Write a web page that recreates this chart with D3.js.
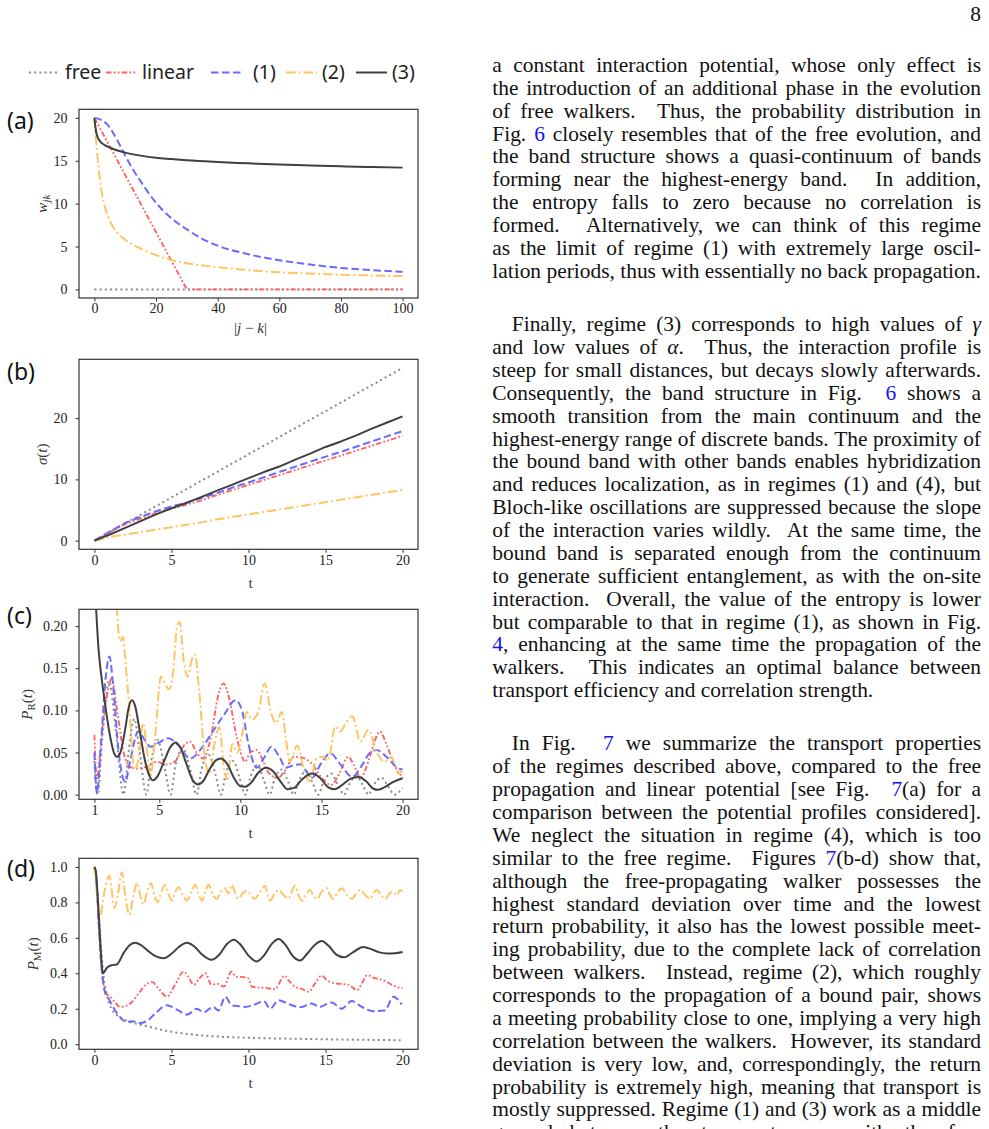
<!DOCTYPE html>
<meta charset="utf-8">
<style>
    body { margin: 0; background: #fff; }
    .axis path.domain { display: none; }
    .axis line { stroke: #333; }
    .axis text { font-family: 'Liberation Serif', 'Times New Roman', serif; font-size: 14px; fill: #222; }
    .panellabel { font-family: 'Noto Sans', 'DejaVu Sans', sans-serif; font-size: 23px; fill: #111; }
    .legend text { font-family: 'Noto Sans', 'DejaVu Sans', sans-serif; font-size: 19.5px; fill: #222; }
    .axlabel { font-family: 'Liberation Serif', 'Times New Roman', serif; font-size: 15px; fill: #333; }
    .body text { font-family: 'Liberation Serif', 'Times New Roman', serif; fill: #111; }
</style>
<body>
<svg></svg>

<script src="https://d3js.org/d3.v7.min.js"></script>
<script type='text/javascript'>

    // legend / series names
    var seriesKeys = ['free', 'linear', '(1)', '(2)', '(3)'];

    // (a) interaction profile w_jk vs |j-k|
    var aFree = [[0,0],[100,0]];
    var aLinear = [[0,20],[30,0],[100,0]];
    var aReg1 = [[0,20],[2,19.8],[4,19.3],[6,18.3],[8,17.0],[10,15.6],[12,14.3],[15,12.6],[20,10.1],[25,8.3],[30,7.0],[35,5.9],[40,5.1],[50,4.1],[60,3.4],[70,2.9],[80,2.5],[90,2.25],[100,2.05]];
    var aReg2 = [[0,20],[0.5,17.6],[1,15.5],[2,12.2],[3,10.2],[4,8.9],[5,8.0],[7,6.8],[10,5.8],[13,5.1],[16,4.6],[20,4.0],[25,3.4],[30,3.05],[40,2.6],[50,2.25],[60,2.0],[70,1.85],[80,1.72],[90,1.63],[100,1.55]];
    var aReg3 = [[0,20],[0.3,19],[0.6,18.3],[1,17.8],[2,17.2],[3,16.9],[5,16.55],[7,16.25],[10,15.95],[15,15.6],[20,15.35],[25,15.2],[30,15.05],[40,14.85],[50,14.7],[60,14.55],[70,14.45],[80,14.35],[90,14.27],[100,14.2]];

    // (b) sigma(t)
    var bFree = [[0,0],[2,2.82],[4,5.64],[6,8.46],[8,11.28],[10,14.1],[12,16.92],[14,19.74],[16,22.56],[18,25.38],[20,28.2]];
    var bLinear = [[0,0],[1,1.4],[2,2.7],[3,3.6],[4,4.5],[5,5.2],[6,5.9],[7,6.6],[8,7.5],[9,8.3],[10,9.1],[12,10.7],[14,12.3],[16,13.9],[18,15.5],[20,17.1]];
    var bReg1 = [[0,0],[1,1.5],[2,2.9],[3,3.9],[4,4.8],[5,5.6],[6,6.2],[7,7.0],[8,7.8],[9,8.7],[10,9.5],[12,11.2],[14,12.9],[16,14.5],[18,16.2],[20,17.9]];
    var bReg2 = [[0,0],[1,0.6],[2,1.0],[3,1.4],[4,1.8],[5,2.2],[6,2.6],[7,3.0],[8,3.5],[9,3.9],[10,4.3],[12,5.1],[14,5.9],[16,6.7],[18,7.5],[20,8.3]];
    var bReg3 = [[0,0],[1,1.0],[2,2.1],[3,3.2],[4,4.3],[5,5.3],[6,6.2],[7,7.2],[8,8.2],[9,9.2],[10,10.2],[11,11.2],[12,12.1],[13,13.2],[14,14.2],[15,15.3],[16,16.2],[17,17.2],[18,18.3],[19,19.3],[20,20.3]];

    // (c) return probability P_R(t)
    var cFree = [[1.0,0.04],[1.2,0.0],[1.5,0.07],[1.9,0.135],[2.3,0.08],[2.8,0.0],[3.1,0.05],[3.45,0.09],[3.8,0.05],[4.2,0.0],[4.5,0.04],[4.9,0.065],[5.3,0.035],[5.7,0.0],[6.0,0.035],[6.45,0.055],[6.9,0.03],[7.3,0.0],[7.6,0.03],[8.05,0.047],[8.45,0.025],[8.8,0.0],[9.1,0.025],[9.55,0.04],[9.95,0.02],[10.3,0.0],[10.6,0.02],[11.05,0.035],[11.45,0.017],[11.8,0.0],[12.1,0.018],[12.55,0.03],[12.95,0.015],[13.3,0.0],[13.6,0.016],[14.05,0.028],[14.45,0.014],[14.8,0.0],[15.1,0.014],[15.6,0.025],[16.0,0.012],[16.4,0.0],[16.7,0.012],[17.15,0.022],[17.55,0.011],[17.9,0.0],[18.2,0.011],[18.7,0.02],[19.1,0.01],[19.5,0.0],[20.0,0.008]];
    var cLinear = [[1.0,0.071],[1.15,0.019],[1.5,0.08],[1.8,0.12],[2.07,0.138],[2.4,0.1],[2.8,0.05],[3.2,0.033],[3.6,0.031],[4.2,0.033],[4.85,0.039],[5.4,0.036],[6.0,0.04],[6.5,0.058],[6.9,0.063],[7.3,0.05],[7.7,0.043],[8.2,0.07],[8.6,0.115],[8.96,0.132],[9.3,0.115],[9.7,0.075],[10.0,0.051],[10.3,0.039],[10.6,0.05],[11.0,0.053],[11.4,0.04],[11.7,0.027],[12.3,0.02],[12.8,0.03],[13.3,0.045],[13.8,0.044],[14.4,0.037],[15.0,0.02],[15.6,0.0115],[16.1,0.025],[16.65,0.045],[17.0,0.035],[17.4,0.02],[17.9,0.04],[18.3,0.065],[18.6,0.075],[19.0,0.06],[19.5,0.035],[20.0,0.02]];
    var cReg1 = [[1.0,0.05],[1.15,0.002],[1.4,0.06],[1.7,0.14],[1.93,0.164],[2.15,0.13],[2.5,0.05],[2.9,0.015],[3.2,0.04],[3.7,0.075],[4.1,0.065],[4.45,0.057],[5.0,0.062],[5.55,0.067],[6.2,0.058],[6.9,0.043],[7.6,0.055],[8.3,0.075],[9.0,0.095],[9.7,0.112],[10.1,0.1],[10.5,0.06],[11.0,0.032],[11.5,0.045],[11.9,0.057],[12.4,0.045],[12.8,0.032],[13.3,0.035],[13.7,0.036],[14.4,0.02],[15.0,0.038],[15.55,0.049],[16.2,0.035],[16.9,0.021],[17.5,0.035],[18.0,0.05],[18.4,0.053],[19.0,0.045],[19.75,0.031],[20.0,0.03]];
    var cReg2 = [[1.0,0.45],[1.8,0.33],[2.3,0.25],[2.5,0.19],[2.6,0.182],[2.75,0.187],[2.95,0.15],[3.2,0.09],[3.45,0.03],[3.7,0.04],[4.0,0.085],[4.2,0.06],[4.45,0.022],[4.75,0.07],[5.1,0.14],[5.4,0.13],[5.6,0.125],[5.85,0.145],[6.1,0.2],[6.25,0.205],[6.5,0.16],[6.75,0.14],[7.0,0.16],[7.2,0.166],[7.45,0.125],[7.8,0.045],[8.1,0.025],[8.4,0.06],[8.7,0.08],[9.0,0.03],[9.2,0.018],[9.5,0.06],[9.8,0.05],[10.1,0.07],[10.4,0.098],[10.7,0.089],[11.1,0.098],[11.5,0.132],[11.85,0.1],[12.2,0.085],[12.55,0.098],[12.8,0.067],[13.05,0.039],[13.5,0.058],[14.0,0.023],[14.3,0.016],[14.7,0.043],[15.1,0.045],[15.4,0.04],[15.85,0.081],[16.15,0.075],[16.5,0.085],[16.9,0.093],[17.4,0.063],[17.9,0.077],[18.4,0.051],[18.9,0.039],[19.3,0.045],[19.75,0.025],[20.0,0.028]];
    var cReg3 = [[1.0,0.26],[1.25,0.174],[1.5,0.13],[1.75,0.095],[2.0,0.066],[2.2,0.05],[2.4,0.045],[2.6,0.05],[2.9,0.078],[3.1,0.102],[3.3,0.112],[3.5,0.106],[3.8,0.075],[4.1,0.042],[4.4,0.022],[4.6,0.017],[4.9,0.022],[5.3,0.04],[5.7,0.057],[6.0,0.062],[6.3,0.056],[6.7,0.035],[7.1,0.016],[7.4,0.012],[7.7,0.016],[8.1,0.03],[8.5,0.041],[8.8,0.043],[9.2,0.036],[9.6,0.02],[10.0,0.01],[10.3,0.0095],[10.7,0.015],[11.1,0.026],[11.6,0.032],[12.0,0.028],[12.5,0.015],[12.9,0.0065],[13.3,0.008],[13.8,0.018],[14.4,0.025],[14.9,0.02],[15.4,0.009],[15.8,0.0065],[16.3,0.012],[16.8,0.019],[17.3,0.021],[17.8,0.015],[18.2,0.007],[18.5,0.0057],[18.9,0.009],[19.4,0.015],[20.0,0.0195]];

    // (d) meeting probability P_M(t)
    var dFree = [[0,1.0],[0.2,0.85],[0.4,0.58],[0.6,0.38],[0.8,0.28],[1.0,0.22],[1.5,0.16],[2.0,0.135],[2.5,0.12],[3.0,0.11],[4.0,0.088],[5.0,0.07],[6.0,0.058],[7.0,0.049],[8.0,0.043],[10,0.036],[12,0.032],[14,0.029],[16,0.026],[18,0.024],[20,0.022]];
    var dLinear = [[0,1.0],[0.1,0.96],[0.2,0.82],[0.3,0.65],[0.4,0.5],[0.55,0.36],[0.7,0.29],[1.0,0.27],[1.3,0.24],[1.65,0.21],[2.0,0.215],[2.4,0.235],[2.9,0.29],[3.4,0.34],[3.75,0.35],[4.2,0.31],[4.7,0.268],[5.2,0.33],[5.8,0.41],[6.1,0.38],[6.45,0.335],[6.8,0.37],[7.2,0.40],[7.6,0.335],[8.0,0.34],[8.4,0.325],[8.9,0.41],[9.2,0.38],[9.5,0.38],[10.0,0.37],[10.2,0.325],[10.6,0.32],[11.1,0.318],[11.7,0.31],[12.35,0.387],[12.6,0.36],[13.0,0.325],[13.5,0.31],[13.9,0.296],[14.3,0.34],[14.75,0.387],[15.1,0.36],[15.5,0.345],[16.0,0.34],[16.5,0.335],[17.05,0.305],[17.4,0.35],[17.7,0.39],[18.1,0.375],[18.6,0.365],[19.0,0.35],[19.4,0.33],[20.0,0.315]];
    var dReg1 = [[0,1.0],[0.1,0.96],[0.2,0.82],[0.3,0.65],[0.4,0.5],[0.55,0.36],[0.7,0.29],[0.9,0.26],[1.15,0.22],[1.55,0.165],[2.1,0.125],[2.5,0.13],[2.85,0.118],[3.4,0.13],[4.05,0.182],[4.7,0.22],[5.35,0.195],[6.0,0.167],[6.65,0.2],[7.1,0.18],[7.7,0.21],[8.05,0.19],[8.5,0.268],[8.9,0.22],[9.3,0.215],[9.8,0.21],[10.3,0.22],[11.0,0.243],[11.4,0.2],[11.95,0.248],[12.4,0.235],[12.8,0.22],[13.45,0.21],[14.1,0.23],[14.6,0.21],[15.4,0.235],[16.05,0.2],[16.7,0.243],[17.35,0.21],[18.1,0.186],[18.85,0.19],[19.4,0.268],[19.95,0.224]];
    var dReg2 = [[0,1.0],[0.15,0.86],[0.37,0.72],[0.65,0.86],[0.97,0.95],[1.3,0.77],[1.55,0.86],[1.78,0.97],[2.0,0.84],[2.27,0.73],[2.55,0.85],[2.79,0.91],[3.0,0.83],[3.18,0.79],[3.45,0.87],[3.66,0.91],[3.9,0.84],[4.09,0.8],[4.35,0.86],[4.59,0.9],[4.8,0.85],[5.03,0.81],[5.25,0.86],[5.46,0.885],[5.75,0.84],[6.0,0.81],[6.3,0.86],[6.54,0.9],[6.75,0.85],[6.97,0.81],[7.2,0.86],[7.4,0.9],[7.7,0.84],[7.94,0.82],[8.2,0.86],[8.45,0.88],[8.7,0.85],[8.92,0.9],[9.15,0.85],[9.35,0.82],[9.6,0.85],[9.9,0.866],[10.15,0.84],[10.4,0.82],[10.75,0.86],[11.08,0.894],[11.25,0.84],[11.4,0.81],[11.7,0.85],[11.95,0.87],[12.3,0.84],[12.6,0.82],[12.8,0.86],[13.03,0.894],[13.25,0.84],[13.47,0.81],[13.75,0.85],[14.0,0.87],[14.2,0.84],[14.44,0.82],[14.75,0.86],[15.09,0.88],[15.3,0.84],[15.5,0.82],[15.8,0.86],[16.06,0.88],[16.4,0.84],[16.7,0.82],[17.0,0.85],[17.25,0.87],[17.6,0.84],[17.9,0.82],[18.1,0.85],[18.34,0.87],[18.6,0.84],[18.88,0.82],[19.15,0.85],[19.4,0.86],[19.6,0.84],[19.85,0.87],[20.0,0.86]];
    var dReg3 = [[0,1.0],[0.1,0.97],[0.2,0.85],[0.3,0.7],[0.4,0.55],[0.55,0.40],[0.8,0.43],[1.1,0.445],[1.45,0.45],[1.9,0.515],[2.3,0.56],[2.65,0.572],[3.0,0.56],[3.5,0.525],[4.0,0.495],[4.5,0.485],[5.0,0.51],[5.5,0.55],[6.0,0.572],[6.5,0.55],[7.0,0.505],[7.6,0.476],[8.1,0.505],[8.6,0.565],[9.05,0.59],[9.5,0.56],[10.0,0.5],[10.55,0.467],[11.0,0.5],[11.5,0.565],[11.95,0.594],[12.4,0.56],[12.9,0.495],[13.35,0.472],[13.8,0.51],[14.3,0.56],[14.75,0.582],[15.2,0.555],[15.7,0.505],[16.2,0.49],[16.8,0.52],[17.45,0.548],[18.0,0.535],[18.5,0.518],[19.0,0.512],[19.5,0.513],[20.0,0.52]];

    var seriesStyle = {
        'free':   {color: '#8a8a8a', dash: '2,3.2', width: 2},
        'linear': {color: '#ff6464', dash: '5.5,2.2,1.8,2.2,1.8,2.2', width: 1.9},
        '(1)':    {color: '#6a6aff', dash: '7.5,3.5', width: 2},
        '(2)':    {color: '#ffc464', dash: '9.5,3,2,3', width: 2},
        '(3)':    {color: '#404040', dash: null, width: 2}
    };

    var frameL = 79, frameR = 418;

    var svg = d3.select('svg')
        .attr('width', 989)
        .attr('height', 1129);

    svg.append('rect').attr('width', 989).attr('height', 1129).attr('fill', '#fff');

    function curveFor(key, panelId) {
        if (panelId === 'a' && key === 'linear') return d3.curveLinear;
        if (panelId === 'b') return d3.curveLinear;
        return d3.curveMonotoneX;
    }

    var panels = [
        {id: 'a', label: '(a)', top: 109.3, bottom: 298, labelY: 129, yLabelX: 47,
         xDomain: [-5, 105], yDomain: [-1, 21],
         xTicks: [0, 20, 40, 60, 80, 100], yTicks: [0, 5, 10, 15, 20], yFmt: d3.format('d'),
         data: [aFree, aLinear, aReg1, aReg2, aReg3], xLabel: 'jk', yLabel: 'w'},
        {id: 'b', label: '(b)', top: 359.3, bottom: 549.3, labelY: 380, yLabelX: 47,
         xDomain: [-1, 21], yDomain: [-1.41, 29.61],
         xTicks: [0, 5, 10, 15, 20], yTicks: [0, 10, 20], yFmt: d3.format('d'),
         data: [bFree, bLinear, bReg1, bReg2, bReg3], xLabel: 't', yLabel: 'sigma'},
        {id: 'c', label: '(c)', top: 609.3, bottom: 799.3, labelY: 624, yLabelX: 32,
         xDomain: [0.05, 20.95], yDomain: [-0.0055, 0.22],
         xTicks: [1, 5, 10, 15, 20], yTicks: [0, 0.05, 0.1, 0.15, 0.2], yFmt: d3.format('.2f'),
         data: [cFree, cLinear, cReg1, cReg2, cReg3], xLabel: 't', yLabel: 'R'},
        {id: 'd', label: '(d)', top: 858.3, bottom: 1049.3, labelY: 877, yLabelX: 38,
         xDomain: [-1, 21], yDomain: [-0.029, 1.049],
         xTicks: [0, 5, 10, 15, 20], yTicks: [0, 0.2, 0.4, 0.6, 0.8, 1.0], yFmt: d3.format('.1f'),
         data: [dFree, dLinear, dReg1, dReg2, dReg3], xLabel: 't', yLabel: 'M'}
    ];

    panels.forEach(function(p) {
        var g = svg.append('g').attr('id', 'panel-' + p.id);
        var x = d3.scaleLinear().domain(p.xDomain).range([frameL, frameR]);
        var y = d3.scaleLinear().domain(p.yDomain).range([p.bottom, p.top]);

        svg.append('clipPath').attr('id', 'clip-' + p.id)
            .append('rect')
            .attr('x', frameL).attr('y', p.top)
            .attr('width', frameR - frameL).attr('height', p.bottom - p.top);

        var lines = g.append('g').attr('clip-path', 'url(#clip-' + p.id + ')');
        seriesKeys.forEach(function(k, i) {
            var st = seriesStyle[k];
            var line = d3.line()
                .x(function(d) { return x(d[0]); })
                .y(function(d) { return y(d[1]); })
                .curve(curveFor(k, p.id));
            lines.append('path')
                .datum(p.data[i])
                .attr('d', line)
                .attr('fill', 'none')
                .attr('stroke', st.color)
                .attr('stroke-width', st.width)
                .attr('stroke-dasharray', st.dash)
                .attr('stroke-linejoin', 'round');
        });

        g.append('g')
            .attr('class', 'x axis')
            .attr('transform', 'translate(0,' + p.bottom + ')')
            .call(d3.axisBottom(x).tickValues(p.xTicks).tickSize(3.5).tickPadding(2).tickFormat(d3.format('d')));

        g.append('g')
            .attr('class', 'y axis')
            .attr('transform', 'translate(' + frameL + ',0)')
            .call(d3.axisLeft(y).tickValues(p.yTicks).tickSize(3.5).tickPadding(8).tickFormat(p.yFmt));

        g.append('rect')
            .attr('x', frameL).attr('y', p.top)
            .attr('width', frameR - frameL).attr('height', p.bottom - p.top)
            .attr('fill', 'none').attr('stroke', '#333').attr('stroke-width', 1.2);

        g.append('text')
            .attr('class', 'panellabel')
            .attr('x', 7).attr('y', p.labelY)
            .text(p.label);

        // axis titles
        var xt = g.append('text')
            .attr('class', 'axlabel')
            .attr('x', (frameL + frameR) / 2 + 2)
            .attr('text-anchor', 'middle');
        if (p.xLabel === 'jk') {
            xt.attr('y', p.bottom + 35);
            xt.append('tspan').text('|');
            xt.append('tspan').attr('font-style', 'italic').text('j');
            xt.append('tspan').text(' \u2212 ');
            xt.append('tspan').attr('font-style', 'italic').text('k');
            xt.append('tspan').text('|');
        } else {
            xt.attr('y', p.bottom + 39).text('t');
        }

        var yt = g.append('text')
            .attr('class', 'axlabel')
            .attr('text-anchor', 'middle')
            .attr('transform', 'translate(' + p.yLabelX + ',' + ((p.top + p.bottom) / 2) + ')rotate(-90)');
        if (p.yLabel === 'w') {
            yt.append('tspan').attr('font-style', 'italic').text('w');
            yt.append('tspan').attr('font-style', 'italic').attr('font-size', 11).attr('dy', 3).text('jk');
        } else if (p.yLabel === 'sigma') {
            yt.append('tspan').attr('font-style', 'italic').text('\u03c3');
            yt.append('tspan').text('(');
            yt.append('tspan').attr('font-style', 'italic').text('t');
            yt.append('tspan').text(')');
        } else {
            yt.append('tspan').attr('font-style', 'italic').text('P');
            yt.append('tspan').attr('font-size', 11).attr('dy', 3).text(p.yLabel);
            yt.append('tspan').attr('dy', -3).text('(');
            yt.append('tspan').attr('font-style', 'italic').text('t');
            yt.append('tspan').text(')');
        }
    });

    // legend row above the panels
    var legendLineX = [29, 106, 211, 286, 356];
    var legendTextX = [65, 142, 253, 322, 392];
    var legend = svg.append('g').attr('class', 'legend');
    seriesKeys.forEach(function(k, i) {
        var st = seriesStyle[k];
        var lx = legendLineX[i];
        legend.append('line')
            .attr('x1', lx).attr('x2', lx + 31)
            .attr('y1', 72.5).attr('y2', 72.5)
            .attr('stroke', st.color)
            .attr('stroke-width', st.width)
            .attr('stroke-dasharray', st.dash);
        legend.append('text')
            .attr('x', legendTextX[i]).attr('y', 79)
            .text(k);
    });

    // ---- right text column ----
    var pageNumber = '8';
    var para1 = [
        'a constant interaction potential, whose only effect is',
        'the introduction of an additional phase in the evolution',
        'of free walkers.  Thus, the probability distribution in',
        'Fig. ^6^ closely resembles that of the free evolution, and',
        'the band structure shows a quasi-continuum of bands',
        'forming near the highest-energy band.  In addition,',
        'the entropy falls to zero because no correlation is',
        'formed.  Alternatively, we can think of this regime',
        'as the limit of regime (1) with extremely large oscil-',
        'lation periods, thus with essentially no back propagation.'
    ];
    var para2 = [
        'Finally, regime (3) corresponds to high values of γ',
        'and low values of α.  Thus, the interaction profile is',
        'steep for small distances, but decays slowly afterwards.',
        'Consequently, the band structure in Fig.  ^6^ shows a',
        'smooth transition from the main continuum and the',
        'highest-energy range of discrete bands. The proximity of',
        'the bound band with other bands enables hybridization',
        'and reduces localization, as in regimes (1) and (4), but',
        'Bloch-like oscillations are suppressed because the slope',
        'of the interaction varies wildly.  At the same time, the',
        'bound band is separated enough from the continuum',
        'to generate sufficient entanglement, as with the on-site',
        'interaction.  Overall, the value of the entropy is lower',
        'but comparable to that in regime (1), as shown in Fig.',
        '^4^, enhancing at the same time the propagation of the',
        'walkers.  This indicates an optimal balance between',
        'transport efficiency and correlation strength.'
    ];
    var para3 = [
        'In Fig.  ^7^ we summarize the transport properties',
        'of the regimes described above, compared to the free',
        'propagation and linear potential [see Fig.  ^7^(a) for a',
        'comparison between the potential profiles considered].',
        'We neglect the situation in regime (4), which is too',
        'similar to the free regime.  Figures ^7^(b-d) show that,',
        'although the free-propagating walker possesses the',
        'highest standard deviation over time and the lowest',
        'return probability, it also has the lowest possible meet-',
        'ing probability, due to the complete lack of correlation',
        'between walkers.  Instead, regime (2), which roughly',
        'corresponds to the propagation of a bound pair, shows',
        'a meeting probability close to one, implying a very high',
        'correlation between the walkers.  However, its standard',
        'deviation is very low, and, correspondingly, the return',
        'probability is extremely high, meaning that transport is',
        'mostly suppressed. Regime (1) and (3) work as a middle',
        'ground between the two extremes, with the free'
    ];

    var colLeft = 492.3, colRight = 981, lineStep = 22.87, paraGap = 30.5, indent = 19.5;
    var body = svg.append('g').attr('class', 'body');

    // fit font size so the natural last line of para 1 fills the column
    var probe = body.append('text').attr('font-size', 20).text(para1[para1.length - 1]);
    var fs = 20 * (colRight - colLeft) / probe.node().getComputedTextLength();
    probe.remove();
    body.attr('font-size', fs);

    body.append('text')
        .attr('x', colRight).attr('y', 20.5)
        .attr('text-anchor', 'end')
        .text(pageNumber);

    function renderWord(str, y) {
        var t = body.append('text').attr('x', 0).attr('y', y);
        str.split(/(\^[^^]+\^|[γα])/).filter(Boolean).forEach(function(s) {
            var ts = t.append('tspan');
            if (s[0] === '^') ts.text(s.slice(1, -1)).attr('fill', '#1010f0');
            else if (s === 'γ' || s === 'α') ts.text(s).attr('font-style', 'italic');
            else ts.text(s);
        });
        return t;
    }

    function layLine(str, y, x0, justify) {
        var parts = str.split(/( +)/);
        var words = [], seps = [];
        parts.forEach(function(s, i) { if (i % 2 === 0) words.push(s); else seps.push(s); });
        var nodes = words.map(function(w) { return renderWord(w, y); });
        var widths = nodes.map(function(n) { return n.node().getComputedTextLength(); });
        var sp = fs * 0.25;
        var nat = seps.map(function(s) { return s.length > 1 ? sp * 1.35 : sp; });
        var stretch = seps.map(function(s) { return s.length > 1 ? 3 : 1; });
        var total = d3.sum(widths) + d3.sum(nat);
        var extra = justify && seps.length ? (colRight - x0 - total) : 0;
        var sumS = d3.sum(stretch) || 1;
        var x = x0;
        nodes.forEach(function(n, i) {
            n.attr('x', x);
            x += widths[i] + (i < seps.length ? nat[i] + extra * stretch[i] / sumS : 0);
        });
    }

    var baseY = 72;
    [para1, para2, para3].forEach(function(para, pi) {
        para.forEach(function(line, li) {
            var last = (li === para.length - 1) && pi < 2;
            var x0 = (li === 0 && pi > 0) ? colLeft + indent : colLeft;
            layLine(line, baseY, x0, !last);
            baseY += lineStep;
        });
        baseY += paraGap;
    });

</script>
